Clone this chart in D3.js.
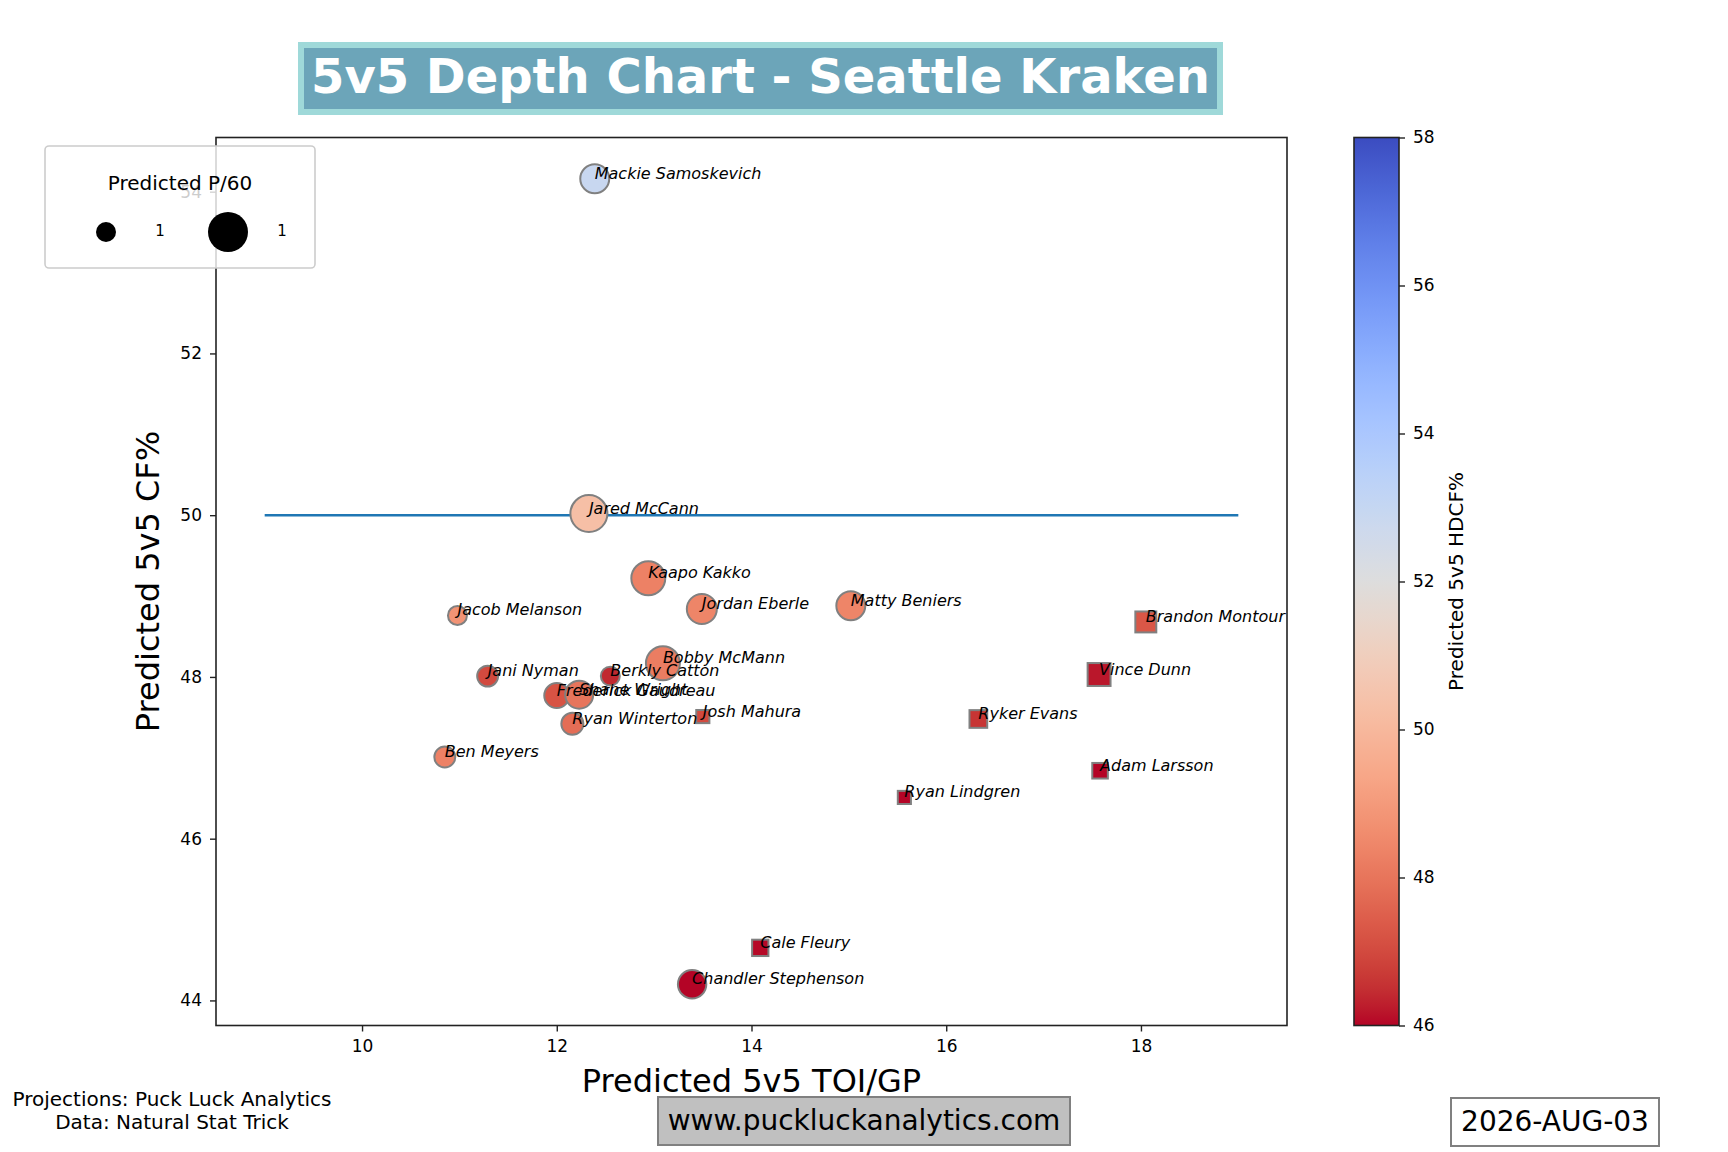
<!DOCTYPE html>
<html>
<head>
<meta charset="utf-8">
<script src="https://cdn.jsdelivr.net/npm/d3@7"></script>
<style>
	body { margin: 0; background: #fff; }
	text { font-family: "DejaVu Sans", sans-serif; }
</style>
</head>
<body>
<svg id="chart" width="1728" height="1152"></svg>
<script>

// data
var players = ['Mackie Samoskevich', 'Jared McCann', 'Kaapo Kakko', 'Jordan Eberle', 'Jacob Melanson',
	'Bobby McMann', 'Berkly Catton', 'Jani Nyman', 'Frederick Gaudreau', 'Shane Wright', 'Ryan Winterton',
	'Ben Meyers', 'Matty Beniers', 'Chandler Stephenson', 'Josh Mahura', 'Brandon Montour', 'Vince Dunn',
	'Ryker Evans', 'Adam Larsson', 'Ryan Lindgren', 'Cale Fleury'];
var positions = ['F', 'F', 'F', 'F', 'F', 'F', 'F', 'F', 'F', 'F', 'F', 'F', 'F', 'F',
	'D', 'D', 'D', 'D', 'D', 'D', 'D'];
var toi = [12.39, 12.33, 12.94, 13.49, 10.98, 13.09, 12.55, 11.29, 12.00, 12.23, 12.16,
	10.85, 15.02, 13.39, 13.50, 18.05, 17.57, 16.33, 17.58, 15.57, 14.09];
var cf = [54.16, 50.02, 49.22, 48.84, 48.76, 48.17, 48.01, 48.01, 47.77, 47.78, 47.42,
	47.01, 48.88, 44.20, 47.51, 48.68, 48.03, 47.48, 46.84, 46.51, 44.65];
var hdcf = [52.9, 50.3, 48.3, 48.4, 48.8, 48.2, 46.4, 47.0, 47.2, 48.0, 47.8,
	48.3, 48.4, 46.0, 47.0, 47.3, 46.2, 46.6, 46.0, 46.0, 46.05];
var p60 = [1.07, 1.75, 1.47, 1.15, 0.46, 1.47, 0.46, 0.56, 0.80, 1.00, 0.62,
	0.56, 1.07, 1.03, 0.22, 0.56, 0.67, 0.40, 0.31, 0.22, 0.34];

var xTicks = [10, 12, 14, 16, 18];
var yTicks = [44, 46, 48, 50, 52, 54];
var cbarTicks = [46, 48, 50, 52, 54, 56, 58];
var legendP60 = [0.51, 2.04];
var legendLabels = ['1', '1'];
var refLine = [[9, 50], [19, 50]];

// matplotlib coolwarm, sampled
var coolwarm = ['#3b4cc0', '#445acc', '#4d68d7', '#5775e1', '#6282ea', '#6c8ef1', '#779af7', '#82a5fb',
	'#8db0fe', '#98b9ff', '#a3c2ff', '#aec9fd', '#b8d0f9', '#c2d5f4', '#ccd9ee', '#d5dbe6', '#dddddd',
	'#e5d8d1', '#ecd3c5', '#f1ccb9', '#f5c4ad', '#f7bba0', '#f7b194', '#f7a687', '#f49a7b', '#f18d6f',
	'#ec7f63', '#e57058', '#de604d', '#d55042', '#cb3e38', '#c0282f', '#b40426'];

var svg = d3.select('#chart');

var ax = {left: 216, right: 1287, top: 137.5, bottom: 1025.5};

var x = d3.scaleLinear().domain([8.5, 19.5]).range([ax.left, ax.right]);
var y = d3.scaleLinear().domain([43.69, 54.67]).range([ax.bottom, ax.top]);
var r = d3.scaleSqrt().domain([0, 1]).range([0, 14]);

var cmap = d3.scaleLinear()
	.domain(coolwarm.map(function (d, i) { return 58 - 12 * i / (coolwarm.length - 1); }))
	.range(coolwarm)
	.clamp(true);

var rows = players.map(function (name, i) {
	return {name: name, pos: positions[i], toi: toi[i], cf: cf[i], hdcf: hdcf[i], p60: p60[i]};
});

// title
svg.append('rect')
	.attr('x', 301).attr('y', 45)
	.attr('width', 919).attr('height', 67)
	.attr('fill', '#6ca5b9')
	.attr('stroke', '#9fd9d9')
	.attr('stroke-width', 6);

svg.append('text')
	.attr('x', 760.5).attr('y', 92.5)
	.attr('text-anchor', 'middle')
	.attr('font-size', 48)
	.attr('font-weight', 'bold')
	.attr('fill', 'white')
	.text('5v5 Depth Chart - Seattle Kraken');

// axes
var gx = svg.append('g')
	.attr('transform', 'translate(0,' + ax.bottom + ')')
	.call(d3.axisBottom(x).tickValues(xTicks).tickSize(6).tickPadding(8));

var gy = svg.append('g')
	.attr('transform', 'translate(' + ax.left + ',0)')
	.call(d3.axisLeft(y).tickValues(yTicks).tickSize(6).tickPadding(8));

[gx, gy].forEach(function (g) {
	g.select('.domain').remove();
	g.selectAll('line').attr('stroke', '#222').attr('stroke-width', 1.4);
	g.selectAll('text').attr('font-size', 17).attr('fill', '#000')
		.attr('font-family', '"DejaVu Sans", sans-serif');
});

svg.append('rect')
	.attr('x', ax.left).attr('y', ax.top)
	.attr('width', ax.right - ax.left).attr('height', ax.bottom - ax.top)
	.attr('fill', 'none')
	.attr('stroke', '#222')
	.attr('stroke-width', 1.6);

svg.append('text')
	.attr('x', (ax.left + ax.right) / 2).attr('y', 1092)
	.attr('text-anchor', 'middle')
	.attr('font-size', 32)
	.text('Predicted 5v5 TOI/GP');

svg.append('text')
	.attr('transform', 'translate(148,' + (ax.top + ax.bottom) / 2 + ') rotate(-90)')
	.attr('text-anchor', 'middle')
	.attr('dominant-baseline', 'central')
	.attr('font-size', 32)
	.text('Predicted 5v5 CF%');

// 50% line
svg.append('line')
	.attr('x1', x(refLine[0][0])).attr('y1', y(refLine[0][1]))
	.attr('x2', x(refLine[1][0])).attr('y2', y(refLine[1][1]))
	.attr('stroke', '#1f77b4')
	.attr('stroke-width', 2.6);

// markers: forwards as circles, defence as squares
var marks = svg.append('g');

marks.selectAll('circle')
	.data(rows.filter(function (d) { return d.pos === 'F'; }))
	.enter()
	.append('circle')
	.attr('cx', function (d) { return x(d.toi); })
	.attr('cy', function (d) { return y(d.cf); })
	.attr('r', function (d) { return r(d.p60); })
	.attr('fill', function (d) { return cmap(d.hdcf); })
	.attr('stroke', '#808080')
	.attr('stroke-width', 2);

marks.selectAll('rect')
	.data(rows.filter(function (d) { return d.pos === 'D'; }))
	.enter()
	.append('rect')
	.attr('x', function (d) { return x(d.toi) - r(d.p60); })
	.attr('y', function (d) { return y(d.cf) - r(d.p60); })
	.attr('width', function (d) { return 2 * r(d.p60); })
	.attr('height', function (d) { return 2 * r(d.p60); })
	.attr('fill', function (d) { return cmap(d.hdcf); })
	.attr('stroke', '#808080')
	.attr('stroke-width', 2);

svg.append('g').selectAll('text')
	.data(rows)
	.enter()
	.append('text')
	.attr('x', function (d) { return x(d.toi); })
	.attr('y', function (d) { return y(d.cf); })
	.attr('font-size', 16)
	.attr('font-style', 'italic')
	.text(function (d) { return d.name; });

// colorbar
var cb = {left: 1354, width: 45};
var cy = d3.scaleLinear().domain([46, 58]).range([ax.bottom, ax.top]);

var grad = svg.append('defs').append('linearGradient')
	.attr('id', 'cbar')
	.attr('x1', 0).attr('y1', 1).attr('x2', 0).attr('y2', 0);

grad.selectAll('stop')
	.data(d3.range(0, 1.0001, 0.02))
	.enter()
	.append('stop')
	.attr('offset', function (t) { return t; })
	.attr('stop-color', function (t) { return cmap(46 + 12 * t); });

svg.append('rect')
	.attr('x', cb.left).attr('y', ax.top)
	.attr('width', cb.width).attr('height', ax.bottom - ax.top)
	.attr('fill', 'url(#cbar)')
	.attr('stroke', '#222')
	.attr('stroke-width', 1.6);

var gc = svg.append('g')
	.attr('transform', 'translate(' + (cb.left + cb.width) + ',0)')
	.call(d3.axisRight(cy).tickValues(cbarTicks).tickSize(6).tickPadding(8));
gc.select('.domain').remove();
gc.selectAll('line').attr('stroke', '#222').attr('stroke-width', 1.4);
gc.selectAll('text').attr('font-size', 17).attr('fill', '#000')
	.attr('font-family', '"DejaVu Sans", sans-serif');

svg.append('text')
	.attr('transform', 'translate(1456,' + (ax.top + ax.bottom) / 2 + ') rotate(-90)')
	.attr('text-anchor', 'middle')
	.attr('dominant-baseline', 'central')
	.attr('font-size', 20)
	.text('Predicted 5v5 HDCF%');

// size legend
var lg = svg.append('g');

lg.append('rect')
	.attr('x', 45).attr('y', 146)
	.attr('width', 270).attr('height', 122)
	.attr('rx', 4)
	.attr('fill', 'white')
	.attr('fill-opacity', 0.8)
	.attr('stroke', '#cccccc')
	.attr('stroke-width', 1.6);

lg.append('text')
	.attr('x', 180).attr('y', 183)
	.attr('text-anchor', 'middle')
	.attr('dominant-baseline', 'central')
	.attr('font-size', 20)
	.text('Predicted P/60');

lg.selectAll('circle')
	.data(legendP60)
	.enter()
	.append('circle')
	.attr('cx', function (d, i) { return 106 + i * 122; })
	.attr('cy', 232)
	.attr('r', function (d) { return r(d); })
	.attr('fill', 'black');

lg.selectAll('text.lab')
	.data(legendLabels)
	.enter()
	.append('text')
	.attr('class', 'lab')
	.attr('x', function (d, i) { return 160 + i * 122; })
	.attr('y', 231)
	.attr('text-anchor', 'middle')
	.attr('dominant-baseline', 'central')
	.attr('font-size', 15)
	.text(function (d) { return d; });

// footer
var credits = ['Projections: Puck Luck Analytics', 'Data: Natural Stat Trick'];
svg.append('g').selectAll('text')
	.data(credits)
	.enter()
	.append('text')
	.attr('x', 172)
	.attr('y', function (d, i) { return 1099 + i * 23; })
	.attr('text-anchor', 'middle')
	.attr('dominant-baseline', 'central')
	.attr('font-size', 20)
	.text(function (d) { return d; });

svg.append('rect')
	.attr('x', 658).attr('y', 1097)
	.attr('width', 412).attr('height', 48)
	.attr('fill', '#c0c0c0')
	.attr('stroke', '#808080')
	.attr('stroke-width', 2);

svg.append('text')
	.attr('x', 864).attr('y', 1130)
	.attr('text-anchor', 'middle')
	.attr('font-size', 28)
	.text('www.puckluckanalytics.com');

svg.append('rect')
	.attr('x', 1451).attr('y', 1098)
	.attr('width', 208).attr('height', 48)
	.attr('fill', 'white')
	.attr('stroke', '#808080')
	.attr('stroke-width', 2);

svg.append('text')
	.attr('x', 1555).attr('y', 1131)
	.attr('text-anchor', 'middle')
	.attr('font-size', 28)
	.text('2026-AUG-03');

</script>
</body>
</html>
